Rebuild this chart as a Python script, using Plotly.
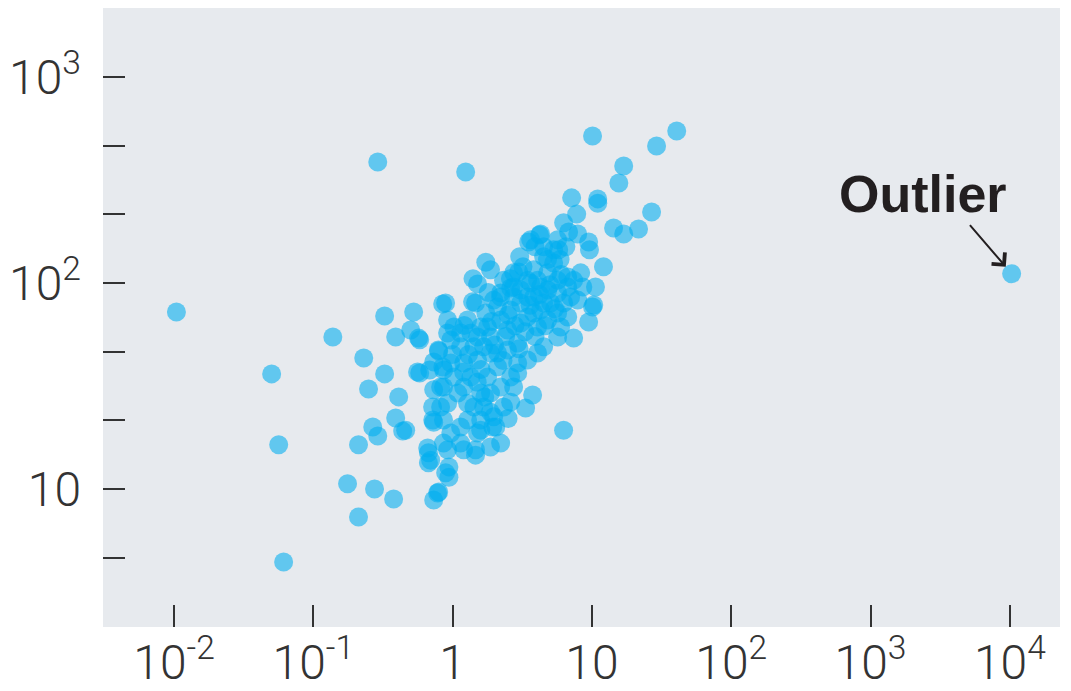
import numpy as np
import plotly.graph_objects as go

# Scatter values (x, y) on log-log axes
x_vals = [
    0.0104, 0.138, 0.0502, 0.0564, 0.0612, 0.325, 0.525, 0.848, 0.39, 0.57, 0.58, 0.23,
    0.325, 0.249, 0.41, 0.58, 0.39, 0.438, 0.267, 0.29, 0.211, 0.176, 0.275, 0.377, 0.211,
    0.684, 0.794, 0.731, 0.862, 0.718, 0.731, 0.662, 0.695, 0.794, 0.731, 0.891, 0.92,
    0.29, 1.24, 10.1, 40.6, 29.1, 16.9, 15.6, 26.8, 21.6, 16.9, 14.3, 11.0, 11.0, 7.15,
    7.77, 6.26, 6.8, 7.9, 12.1, 9.47, 9.6, 10.6, 10.3, 4.21, 3.51, 3.03, 4.5, 5.31, 5.67,
    1.73, 1.87, 1.51, 2.98, 3.63, 0.89, 1.46, 2.21,
    3.63, 4.28, 10.1, 9.47, 7.39, 6.26, 3.34, 3.75, 2.61, 1.94, 2.21, 1.87, 1.46, 1.14,
    0.92, 0.67, 0.5, 0.56, 0.46, 0.82, 0.731, 0.72, 0.79, 0.85, 0.92, 1.21, 1.39, 1.97,
    2.21, 2.61, 2.74, 3.45, 3.82, 4.5, 5.31, 5.77, 8.3, 8.6, 7.9, 6.7, 5.96, 5.67, 4.5,
    4.07, 3.45, 2.93, 2.61, 2.21, 2.1, 1.78, 1.59, 1.42, 1.28, 1.59, 1.09, 1.02, 1.2, 1.14,
    1.35, 1.59, 1.67, 1.87, 2.21, 2.48, 2.61, 3.08, 3.45, 3.82, 4.28, 4.81, 5.05, 5.67,
    6.7, 7.03, 4.81, 4.07, 3.08, 2.93, 2.48, 2.1, 1.51, 1.35, 1.2, 1.28, 1.14, 1.51, 1.67,
    1.87, 2.32, 1.97, 2.74, 2.93, 0.97, 0.86, 0.92, 0.86, 0.97, 0.97, 1.02, 1.28, 1.73,
    2.1, 2.32, 2.74, 3.08, 3.45, 4.07, 4.28, 4.81, 5.67, 6.26, 6.7, 7.39, 5.67, 4.5, 3.82,
    2.74, 1.78, 1.51, 1.87, 1.14, 1.42,
    0.78, 0.94, 0.94, 0.67, 0.86, 1.2, 1.46, 2.04, 1.59, 1.87, 0.82,
    1.3, 1.6, 2.0, 2.4, 2.8, 3.3, 3.6, 4.2, 5.0, 2.5, 1.9, 1.2, 1.5, 2.3, 3.0, 3.9, 4.6,
    5.4, 6.0, 3.2, 2.6, 1.8, 1.0, 1.7, 2.5, 4.8, 5.9, 6.5, 3.9, 1.4,
]
y_vals = [
    72.3, 54.7, 36.2, 16.4, 4.42, 69.2, 72.3, 79.1, 54.7, 54.0, 53.0, 43.2,
    36.2, 30.6, 28.0, 36.6, 22.1, 19.1, 20.0, 18.1, 16.4, 10.6, 10.0, 8.94, 7.31,
    37.8, 46.8, 41.4, 37.8, 25.0, 21.1, 15.8, 13.8, 9.67, 8.85, 12.0, 57.2,
    387, 346, 517, 547, 462, 370, 306, 221, 183, 173, 185, 256, 244, 259,
    216, 196, 177, 173, 120, 158, 145, 95.7, 78.2, 171, 158, 134, 150, 145, 162,
    126, 116, 99, 113, 100, 80, 80, 85.5,
    162, 173, 76.5, 64.7, 54.1, 19.3, 24.7, 28.6, 26.4, 20.0, 16.7, 16.0, 15.5, 16.7,
    15.5, 15.0, 59.1, 37.0, 19.3, 25.0, 30.3, 21.6, 47.3, 39.1, 66.1, 62.2, 81, 82.6,
    89.4, 94.6, 112, 103, 116, 134, 125, 145, 112, 95.7, 82.6, 68.4, 61.1, 54.7, 49.0,
    45.7, 42.3, 40.9, 35.0, 31.3, 39.2, 35.0, 29.2, 25.0, 21.6, 21.6, 29.2, 35.0, 40.9, 49.0,
    57.2, 61.1, 49.0, 54.7, 66.1, 59.1, 74.0, 80.0, 68.4, 85.5, 74.0, 92.5, 80.0, 103,
    107, 85.5, 66.1, 61.1, 64.0, 51.0, 47.3, 45.7, 42.3, 35.0, 31.3, 26.1, 20.0, 18.7, 25.0,
    29.2, 25.0, 22.4, 31.3, 36.6, 18.7, 21.6, 26.1, 31.3, 40.9, 52.9, 61.1, 66.1, 71.5,
    76.5, 103, 95.7, 92.5, 85.5, 103, 95.7, 112, 89.4, 80.0, 95.7, 103, 71.5, 80.0, 71.5,
    85.5, 61.1, 54.7, 45.7, 57.2, 49.0,
    9.57, 11.4, 12.8, 13.4, 16.7, 15.5, 14.6, 20.0, 19.3, 23.6, 31.3,
    45, 38, 50, 55, 62, 58, 78, 88, 98, 70, 65, 37, 33, 42, 48, 55, 62,
    75, 110, 120, 105, 90, 45, 28, 22, 130, 130, 150, 150, 105,
]

outlier_x = [10300]
outlier_y = [111]

x_tick_vals = [0.01, 0.1, 1, 10, 100, 1000, 10000]
x_tick_text = ["10<sup>-2</sup>", "10<sup>-1</sup>", "1", "10", "10<sup>2</sup>",
               "10<sup>3</sup>", "10<sup>4</sup>"]
y_tick_vals = [4.642, 10, 21.54, 46.42, 100, 215.4, 464.2, 1000]
y_tick_text = ["", "10", "", "", "10<sup>2</sup>", "", "", "10<sup>3</sup>"]

dot_color = "rgba(0,174,239,0.58)"
ink = "#333333"

fig = go.Figure()
fig.add_trace(go.Scatter(
    x=x_vals + outlier_x, y=y_vals + outlier_y, mode="markers",
    marker=dict(size=19, color=dot_color, line=dict(width=0)),
    hoverinfo="skip", showlegend=False,
))

# Arrow pointing at the outlier, plus its label
fig.add_annotation(
    x=np.log10(outlier_x[0]), y=np.log10(outlier_y[0]), xref="x", yref="y",
    text="", showarrow=True, ax=-43, ay=-50, axref="pixel", ayref="pixel",
    arrowhead=4, arrowsize=1.7, arrowwidth=2, arrowcolor="#231f20", standoff=9,
)
fig.add_annotation(
    x=0.857, y=0.70, xref="paper", yref="paper", text="<b>Outlier</b>",
    showarrow=False, xanchor="center", yanchor="middle",
    font=dict(family="Liberation Sans", size=52, color="#231f20"),
)

tick_font = dict(family="Roboto", size=48, color=ink, weight=300)

fig.update_xaxes(
    type="log", range=[-2.51, 4.36], tickmode="array",
    tickvals=x_tick_vals, ticktext=x_tick_text,
    ticks="inside", ticklen=22, tickwidth=2, tickcolor=ink,
    tickfont=tick_font, showgrid=False, zeroline=False, showline=False,
    ticklabelstandoff=3, automargin=False,
)
fig.update_yaxes(
    type="log", range=[0.33, 3.335], tickmode="array",
    tickvals=y_tick_vals, ticktext=y_tick_text,
    ticks="inside", ticklen=22, tickwidth=2, tickcolor=ink,
    tickfont=tick_font, showgrid=False, zeroline=False, showline=False,
    ticklabelstandoff=21, automargin=False,
)

fig.update_layout(
    width=1071, height=691,
    margin=dict(l=103, r=11, t=8, b=64, pad=0),
    paper_bgcolor="white", plot_bgcolor="#e7eaee",
)

fig.write_html("out.html")
